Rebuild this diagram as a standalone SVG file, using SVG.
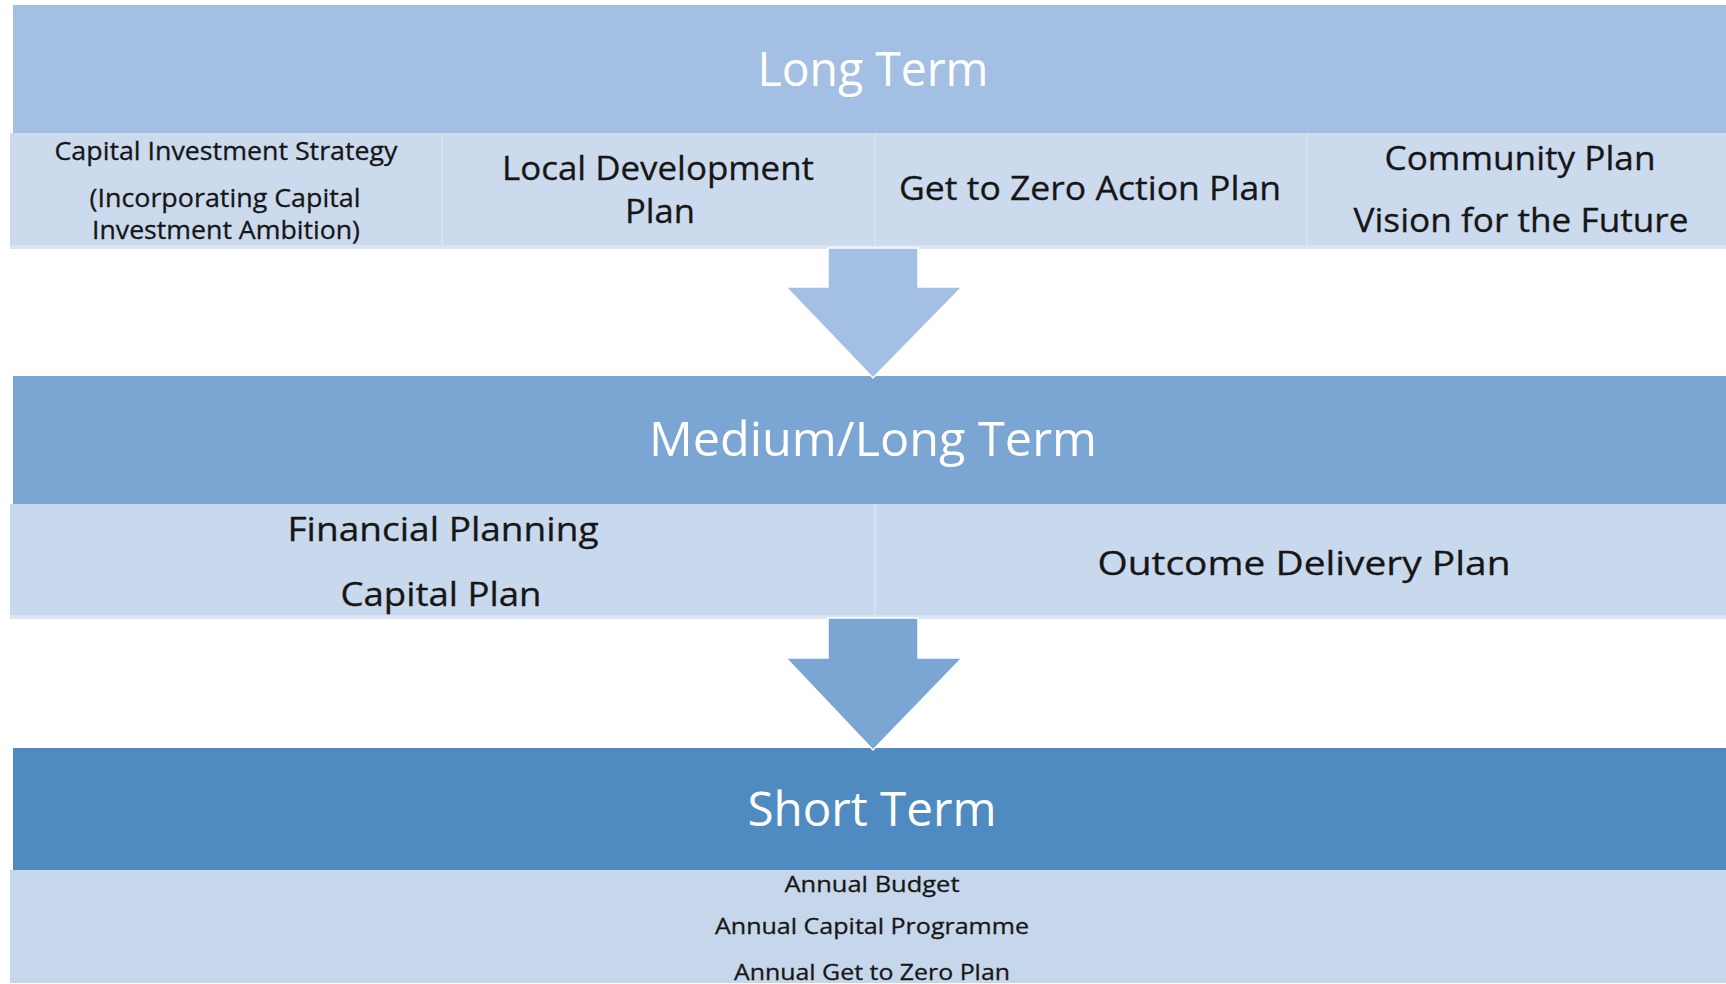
<svg xmlns="http://www.w3.org/2000/svg" width="1726" height="984" viewBox="0 0 1726 984">
  <style>
    .title { font-family: "Open Sans", "Liberation Sans", sans-serif; font-size: 48px; fill: #ffffff; text-anchor: middle; }
    .item { font-family: "Open Sans", "Liberation Sans", sans-serif; fill: #161616; text-anchor: middle; stroke: #161616; stroke-width: 0.3; }
    .lg { font-size: 32px; }
    .md { font-size: 25px; }
    .sm { font-size: 22px; }
    .row1 { fill: #CCDAEE; }
    .row2 { fill: #C9D9ED; }
    .row3 { fill: #C6D6EB; }
    .edge { fill: #DAE4F2; }
    .divider { stroke: #D7E2F1; stroke-width: 2; }
    .arrow { stroke: #ffffff; stroke-width: 1.5; stroke-linejoin: miter; }
  </style>
  <rect x="0" y="0" width="1726" height="984" fill="#ffffff"/>

  <!-- Long term tier -->
  <g id="long-term">
    <rect x="13" y="5" width="1713" height="128" fill="#A3BFE3"/>
    <text class="title" x="873" y="86" textLength="231" lengthAdjust="spacingAndGlyphs">Long Term</text>
  </g>
  <g id="long-term-items">
    <rect class="row1" x="10" y="133" width="1716" height="116"/>
    <rect class="edge" x="10" y="245" width="1716" height="4"/>
    <line class="divider" x1="442" y1="133" x2="442" y2="246"/>
    <line class="divider" x1="875" y1="133" x2="875" y2="246"/>
    <line class="divider" x1="1307" y1="133" x2="1307" y2="246"/>
    <g id="capital-investment-strategy">
      <text class="item md" x="226" y="160" textLength="343" lengthAdjust="spacingAndGlyphs">Capital Investment Strategy</text>
      <text class="item md" x="225" y="207" textLength="271" lengthAdjust="spacingAndGlyphs">(Incorporating Capital</text>
      <text class="item md" x="226" y="239" textLength="268" lengthAdjust="spacingAndGlyphs">Investment Ambition)</text>
    </g>
    <g id="local-development-plan">
      <text class="item lg" x="658" y="180" textLength="312" lengthAdjust="spacingAndGlyphs">Local Development</text>
      <text class="item lg" x="660" y="223" textLength="70" lengthAdjust="spacingAndGlyphs">Plan</text>
    </g>
    <g id="get-to-zero-action-plan">
      <text class="item lg" x="1090" y="200" textLength="382" lengthAdjust="spacingAndGlyphs">Get to Zero Action Plan</text>
    </g>
    <g id="community-plan">
      <text class="item lg" x="1520" y="170" textLength="271" lengthAdjust="spacingAndGlyphs">Community Plan</text>
      <text class="item lg" x="1521" y="232" textLength="335" lengthAdjust="spacingAndGlyphs">Vision for the Future</text>
    </g>
  </g>

  <!-- Medium/long term tier -->
  <g id="medium-long-term">
    <rect x="13" y="376" width="1713" height="128" fill="#7BA5D3"/>
    <text class="title" x="873" y="456" textLength="448" lengthAdjust="spacingAndGlyphs">Medium/Long Term</text>
  </g>
  <g id="medium-long-term-items">
    <rect class="row2" x="10" y="504" width="1716" height="115"/>
    <rect class="edge" x="10" y="615" width="1716" height="4"/>
    <line class="divider" x1="875" y1="504" x2="875" y2="616"/>
    <g id="financial-planning">
      <text class="item lg" x="443" y="541" textLength="311" lengthAdjust="spacingAndGlyphs">Financial Planning</text>
      <text class="item lg" x="441" y="606" textLength="201" lengthAdjust="spacingAndGlyphs">Capital Plan</text>
    </g>
    <g id="outcome-delivery-plan">
      <text class="item lg" x="1304" y="575" textLength="413" lengthAdjust="spacingAndGlyphs">Outcome Delivery Plan</text>
    </g>
  </g>

  <!-- Short term tier -->
  <g id="short-term">
    <rect x="13" y="748" width="1713" height="122" fill="#4F8AC1"/>
    <text class="title" x="872" y="826" textLength="249" lengthAdjust="spacingAndGlyphs">Short Term</text>
  </g>
  <g id="short-term-items">
    <rect class="row3" x="10" y="870" width="1716" height="113"/>
    <text class="item sm" x="872" y="892" textLength="175" lengthAdjust="spacingAndGlyphs">Annual Budget</text>
    <text class="item sm" x="872" y="934" textLength="314" lengthAdjust="spacingAndGlyphs">Annual Capital Programme</text>
    <text class="item sm" x="872" y="980" textLength="276" lengthAdjust="spacingAndGlyphs">Annual Get to Zero Plan</text>
  </g>

  <!-- Block arrows between tiers -->
  <g id="connectors">
    <polygon class="arrow" fill="#A3BFE3" points="828,248 918,248 918,287 962,287 873,378 786,287 828,287"/>
    <polygon class="arrow" fill="#7BA5D3" points="828,618 918,618 918,658 962,658 873,750 786,658 828,658"/>
  </g>
</svg>
